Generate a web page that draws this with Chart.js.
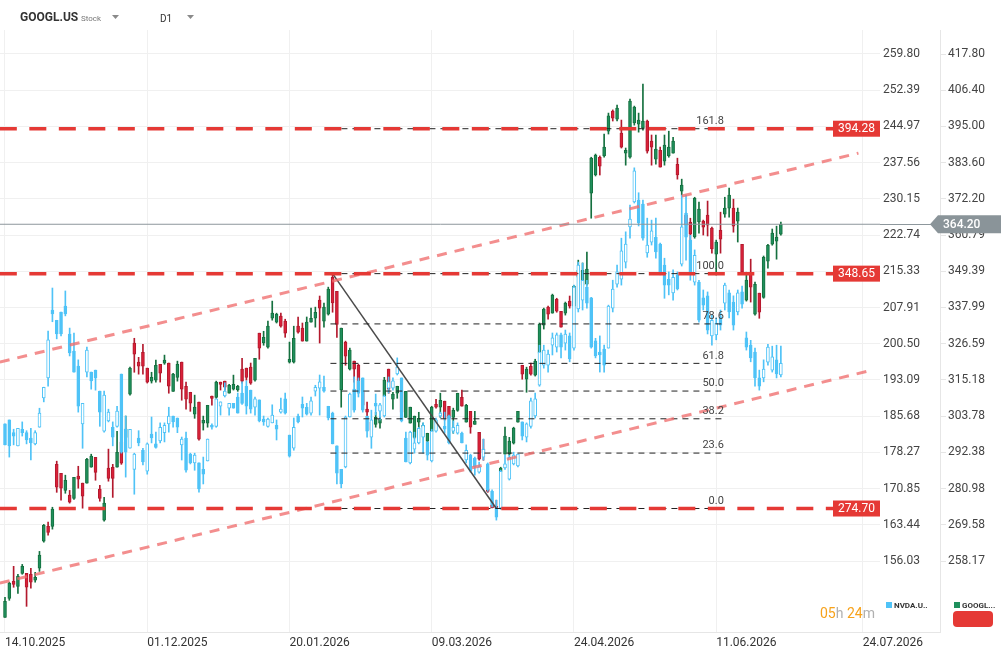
<!DOCTYPE html>
<html>
<head>
<meta charset="utf-8">
<script src="https://cdn.jsdelivr.net/npm/chart.js@4.4.1/dist/chart.umd.min.js"></script>
<style>
  html, body { margin: 0; padding: 0; background: #fff; }
  canvas { display: block; }
</style>
</head>
<body>
<canvas id="chart" width="1008" height="659"></canvas>
<script>
// --- x axis (bar index) labels ---
const dateLabels = ['14.10.2025', '01.12.2025', '20.01.2026', '09.03.2026', '24.04.2026', '11.06.2026', '24.07.2026'];
const dateTickIdx = [0, 33, 66, 99, 132, 165, 199];

// --- y tick labels ---
const nvdaTicks = [259.80, 252.39, 244.97, 237.56, 230.15, 222.74, 215.33, 207.91, 200.50, 193.09, 185.68, 178.27, 170.85, 163.44, 156.03];
const googlTicks = [417.80, 406.40, 395.00, 383.60, 372.20, 360.79, 349.39, 337.99, 326.59, 315.18, 303.78, 292.38, 280.98, 269.58, 258.17];

// --- GOOGL.US daily candles ---
const googlOpen = [
  240.4, 246.4, 251.8, 250.2, 254.3, 254.3, 254.0, 252.1, 255.9, 264.4,
  269.1, 269.1, 288.6, 285.8, 280.4, 278.9, 277.9, 284.9, 282.7, 282.7,
  287.7, 290.8, 280.8, 271.0, 287.4, 287.7, 287.7, 295.6, 297.1, 310.7,
  326.8, 320.8, 323.9, 318.9, 314.8, 315.1, 320.1, 320.5, 320.5, 311.6,
  316.0, 320.8, 313.2, 311.3, 304.4, 308.2, 301.6, 301.6, 310.1, 309.7,
  314.5, 314.8, 311.0, 312.3, 312.0, 318.6, 318.9, 319.2, 315.1, 329.9,
  326.8, 325.5, 334.6, 333.4, 335.3, 333.7, 320.8, 320.8, 332.1, 331.5,
  327.4, 333.4, 334.6, 340.3, 333.7, 335.9, 347.5, 343.1, 312.0, 327.1,
  318.6, 321.1, 319.8, 311.3, 306.0, 301.9, 301.2, 301.6, 310.1, 318.6,
  309.1, 311.0, 311.3, 303.4, 301.6, 297.1, 301.9, 300.3, 295.9, 299.0,
  307.5, 306.6, 308.5, 306.9, 303.4, 305.6, 309.7, 301.9, 305.3, 301.2,
  298.7, 293.4, 280.8, 275.7, 275.4, 286.4, 291.8, 291.8, 295.3, 301.9,
  319.8, 315.4, 319.5, 316.7, 323.6, 332.4, 338.1, 336.2, 340.6, 336.8,
  336.2, 340.0, 338.4, 347.5, 345.0, 345.3, 374.0, 379.7, 385.3, 385.7,
  393.5, 399.8, 397.3, 392.9, 386.6, 385.3, 396.1, 395.7, 394.5, 396.7,
  390.4, 384.7, 387.5, 384.1, 385.7, 386.6, 383.1, 374.6, 367.1, 364.9,
  360.2, 364.9, 365.2, 367.1, 363.0, 354.8, 362.3, 367.4, 369.3, 369.3,
  365.2, 357.9, 340.3, 348.8, 335.9, 342.5, 341.2, 352.6, 357.9, 358.9,
  361.1
];
const googlHigh = [
  246.7, 251.5, 256.5, 254.0, 257.1, 254.3, 255.9, 254.6, 261.2, 269.7,
  270.4, 275.1, 289.6, 285.8, 285.2, 280.4, 284.5, 288.0, 282.7, 290.5,
  291.8, 290.8, 282.0, 278.2, 293.4, 288.6, 299.0, 298.4, 303.8, 319.2,
  328.3, 322.3, 326.4, 318.9, 317.6, 321.4, 320.1, 323.0, 320.5, 317.3,
  321.1, 320.8, 314.5, 311.3, 310.4, 308.2, 303.8, 307.2, 310.1, 314.8,
  314.5, 314.8, 313.8, 316.7, 313.5, 322.0, 318.9, 320.5, 322.0, 329.9,
  330.5, 333.7, 340.0, 336.2, 336.2, 334.3, 327.1, 332.1, 335.0, 333.1,
  335.0, 337.8, 338.1, 341.6, 339.4, 344.4, 348.65, 343.1, 331.5, 327.4,
  325.2, 321.1, 320.1, 313.5, 308.2, 302.2, 305.0, 303.4, 316.0, 318.6,
  311.3, 313.2, 313.5, 311.6, 306.6, 303.8, 305.0, 301.6, 298.4, 306.9,
  309.1, 311.0, 308.5, 306.9, 306.3, 311.0, 312.0, 307.5, 305.3, 305.3,
  298.7, 296.5, 281.4, 275.7, 277.3, 287.7, 300.3, 297.1, 300.3, 305.3,
  319.8, 319.2, 320.5, 321.7, 333.1, 337.8, 338.4, 342.2, 340.9, 336.8,
  339.7, 341.6, 345.0, 352.9, 352.0, 355.4, 385.3, 386.3, 385.7, 392.6,
  399.2, 400.2, 401.7, 397.0, 388.2, 403.6, 401.4, 399.2, 408.3, 397.0,
  392.3, 392.3, 388.5, 392.3, 393.5, 391.6, 385.0, 378.4, 367.7, 366.1,
  372.7, 371.2, 365.5, 371.5, 363.3, 359.2, 368.0, 372.7, 375.6, 372.1,
  369.3, 357.9, 349.1, 353.2, 346.0, 342.5, 354.2, 357.9, 362.7, 363.6,
  364.9
];
const googlLow = [
  240.4, 245.8, 249.9, 248.0, 254.0, 243.9, 249.6, 251.5, 254.9, 264.1,
  266.3, 268.2, 279.8, 277.3, 279.5, 276.4, 277.6, 281.1, 274.8, 282.7,
  287.7, 283.6, 277.0, 270.7, 283.3, 278.2, 287.7, 288.6, 297.1, 310.4,
  317.6, 317.0, 317.0, 314.2, 314.2, 314.5, 314.5, 320.1, 311.0, 311.6,
  314.8, 308.8, 306.0, 305.3, 303.1, 296.2, 299.4, 300.3, 307.2, 309.4,
  312.0, 312.0, 311.0, 312.0, 311.6, 314.2, 315.1, 313.8, 314.8, 321.7,
  326.1, 325.2, 334.0, 333.1, 331.8, 328.6, 320.5, 320.5, 329.9, 327.4,
  327.4, 333.4, 331.8, 326.8, 331.8, 335.6, 336.5, 328.6, 306.6, 319.8,
  318.3, 314.5, 311.0, 306.3, 303.4, 297.8, 300.3, 300.0, 309.7, 311.0,
  306.0, 309.4, 304.1, 303.4, 301.6, 296.8, 297.8, 299.4, 293.1, 298.7,
  306.3, 303.4, 302.5, 302.8, 298.4, 305.3, 306.9, 301.9, 298.4, 301.2,
  289.9, 289.9, 279.8, 274.9, 274.7, 286.1, 291.8, 291.5, 295.0, 301.9,
  315.4, 311.3, 316.7, 316.4, 323.6, 331.2, 334.3, 336.2, 336.5, 331.8,
  335.6, 337.8, 337.5, 347.2, 345.0, 345.0, 366.1, 379.4, 379.7, 385.3,
  392.6, 396.7, 396.7, 388.2, 382.8, 385.0, 395.4, 393.2, 393.8, 386.6,
  382.8, 383.1, 382.2, 382.8, 385.3, 386.6, 378.4, 373.4, 360.8, 357.0,
  359.8, 361.4, 360.8, 360.5, 355.1, 348.2, 355.1, 366.4, 366.4, 361.7,
  358.6, 348.8, 340.0, 339.7, 335.6, 334.6, 340.9, 350.4, 357.6, 353.2,
  360.8
];
const googlClose = [
  245.5, 251.2, 250.8, 253.4, 256.5, 249.9, 251.5, 253.0, 260.0, 269.4,
  267.2, 274.5, 281.4, 281.1, 283.6, 276.7, 284.5, 283.9, 278.6, 290.2,
  291.2, 286.1, 277.9, 276.4, 284.2, 284.2, 292.4, 289.0, 299.7, 318.9,
  323.3, 319.5, 319.5, 314.5, 316.0, 319.8, 317.3, 321.4, 313.2, 317.0,
  320.1, 312.3, 309.1, 307.9, 306.6, 296.5, 302.5, 307.2, 309.4, 314.5,
  313.8, 312.9, 313.5, 313.8, 313.2, 314.8, 316.0, 314.2, 322.0, 325.2,
  328.6, 332.1, 336.2, 335.9, 332.1, 329.9, 321.7, 328.3, 330.2, 327.4,
  333.4, 334.6, 336.5, 337.8, 338.1, 343.8, 339.4, 332.7, 331.5, 322.7,
  324.6, 318.6, 311.6, 307.2, 305.0, 299.4, 303.4, 302.8, 315.1, 312.3,
  310.7, 313.2, 305.0, 311.6, 306.6, 303.8, 303.1, 300.9, 298.4, 306.6,
  306.6, 308.8, 303.1, 303.1, 305.6, 311.0, 306.9, 307.2, 300.3, 302.2,
  290.2, 292.4, 280.1, 275.0, 275.0, 287.4, 297.5, 295.9, 300.0, 305.3,
  317.0, 318.6, 317.0, 321.1, 332.7, 337.5, 335.9, 341.9, 336.8, 331.8,
  339.4, 338.4, 344.7, 349.7, 349.7, 350.1, 385.0, 386.0, 382.5, 388.5,
  398.3, 397.6, 400.8, 388.5, 387.5, 403.0, 401.1, 397.0, 396.7, 387.2,
  388.5, 387.9, 382.2, 389.1, 388.5, 390.4, 379.7, 376.5, 363.9, 361.1,
  372.4, 369.0, 363.3, 363.9, 356.4, 358.6, 359.5, 369.3, 373.4, 363.6,
  368.0, 349.1, 346.6, 344.4, 345.3, 336.5, 353.8, 357.6, 361.4, 360.2,
  364.2
];

// --- NVDA.US daily candles (comparison overlay, inner axis) ---
const nvdaOpen = [
  184.1, 184.9, 182.3, 179.6, 183.0, 182.3, 181.2, 180.0, 183.4, 189.4,
  193.5, 207.4, 205.3, 207.0, 208.2, 202.5, 199.0, 195.9, 184.1, 194.7,
  194.7, 195.1, 190.8, 182.6, 184.7, 183.4, 183.6, 194.3, 183.0, 179.1,
  174.8, 181.2, 178.7, 174.4, 182.0, 180.0, 180.6, 182.3, 184.1, 185.7,
  185.3, 179.8, 181.2, 177.9, 176.1, 176.1, 174.8, 176.5, 183.8, 183.6,
  187.7, 189.8, 187.3, 188.3, 189.6, 190.4, 191.8, 191.0, 187.5, 189.0,
  185.1, 183.6, 184.3, 183.8, 186.5, 189.2, 181.8, 179.1, 185.7, 188.1,
  187.5, 186.3, 190.8, 191.4, 191.6, 187.7, 186.3, 179.6, 174.8, 175.3,
  185.5, 191.2, 192.9, 193.5, 185.7, 181.4, 188.3, 186.7, 185.7, 191.4,
  191.4, 194.3, 193.5, 181.2, 176.1, 178.9, 180.2, 181.4, 180.4, 176.5,
  182.6, 185.7, 183.6, 185.7, 182.6, 182.2, 182.2, 176.7, 177.7, 177.1,
  174.2, 177.3, 175.9, 170.3, 166.9, 166.9, 175.1, 172.8, 175.9, 175.5,
  184.5, 181.4, 183.6, 185.7, 192.0, 196.1, 196.1, 200.2, 199.8, 202.3,
  200.6, 202.1, 199.6, 207.6, 209.4, 212.1, 209.9, 201.1, 198.8, 199.4,
  199.6, 207.8, 212.7, 213.7, 217.2, 224.4, 229.5, 229.9, 229.1, 219.1,
  221.3, 222.3, 220.9, 216.6, 213.7, 210.9, 214.6, 216.8, 227.2, 221.7,
  213.1, 213.1, 209.9, 210.3, 202.1, 202.3, 206.0, 208.8, 210.9, 209.0,
  207.0, 211.1, 201.7, 200.2, 198.8, 193.5, 193.5, 196.7, 195.1, 197.2,
  194.1
];
const nvdaHigh = [
  184.1, 184.9, 183.0, 183.2, 184.5, 182.7, 183.2, 182.7, 187.3, 191.6,
  203.1, 211.9, 205.3, 207.0, 211.3, 203.7, 202.7, 197.2, 188.3, 199.8,
  194.7, 195.1, 190.8, 190.8, 187.1, 184.5, 187.7, 194.3, 185.7, 183.0,
  178.1, 182.7, 179.1, 180.2, 185.5, 182.4, 184.3, 184.3, 187.5, 185.7,
  185.3, 181.4, 182.4, 178.1, 178.1, 176.1, 177.3, 181.0, 184.1, 189.2,
  188.6, 192.5, 188.3, 188.3, 190.4, 192.7, 192.9, 191.0, 189.6, 189.0,
  185.7, 185.3, 188.0, 184.9, 189.4, 190.4, 181.8, 185.3, 186.1, 189.6,
  188.3, 189.6, 192.0, 194.1, 193.9, 187.7, 186.5, 179.6, 174.8, 185.7,
  190.4, 193.7, 193.5, 193.5, 185.7, 186.9, 190.2, 188.3, 190.0, 193.7,
  193.5, 197.6, 193.5, 182.4, 182.6, 182.4, 183.4, 184.3, 180.4, 183.0,
  185.3, 186.5, 186.5, 185.9, 184.7, 184.3, 182.4, 179.8, 177.9, 177.3,
  176.3, 181.0, 176.1, 170.6, 168.5, 174.6, 177.7, 177.7, 178.3, 177.9,
  184.5, 184.3, 189.4, 190.4, 200.2, 200.2, 199.2, 202.7, 202.7, 202.7,
  203.3, 202.7, 212.5, 217.2, 217.0, 213.5, 210.0, 201.6, 202.1, 200.2,
  208.4, 213.5, 216.6, 222.1, 223.4, 228.9, 236.5, 231.4, 229.9, 226.2,
  225.8, 226.2, 221.1, 218.0, 215.2, 215.6, 215.2, 230.9, 230.9, 222.7,
  219.7, 213.5, 211.5, 211.1, 206.4, 205.8, 207.4, 212.9, 211.5, 210.3,
  211.5, 212.3, 202.9, 201.2, 199.6, 195.1, 197.2, 200.4, 200.0, 200.2,
  200.0
];
const nvdaLow = [
  179.8, 177.3, 179.8, 179.6, 181.6, 180.0, 176.7, 179.8, 183.4, 188.6,
  191.8, 205.0, 201.5, 202.1, 206.2, 198.0, 194.7, 186.5, 179.1, 193.7,
  191.2, 191.0, 183.6, 182.4, 184.5, 179.6, 183.4, 178.1, 173.2, 179.1,
  169.7, 179.6, 175.7, 173.8, 180.2, 179.1, 180.2, 180.4, 182.4, 183.4,
  182.3, 176.7, 174.2, 175.9, 174.6, 170.1, 171.8, 176.5, 183.0, 183.4,
  185.9, 189.6, 185.9, 187.3, 186.3, 188.1, 186.1, 186.3, 185.9, 184.5,
  183.8, 183.4, 184.3, 180.8, 186.3, 186.1, 177.3, 178.7, 184.3, 185.5,
  185.9, 185.9, 189.8, 185.9, 190.6, 184.9, 180.0, 171.8, 171.0, 175.1,
  185.5, 186.5, 189.6, 186.5, 181.4, 179.1, 185.9, 184.9, 185.5, 190.4,
  191.0, 194.1, 184.5, 176.3, 175.9, 178.1, 180.0, 178.1, 176.7, 176.3,
  182.4, 185.5, 182.2, 180.0, 182.2, 182.0, 180.2, 176.1, 174.2, 173.6,
  174.0, 176.7, 170.3, 167.1, 164.4, 166.6, 174.8, 172.6, 175.7, 175.3,
  180.8, 180.4, 183.2, 185.3, 191.8, 195.5, 194.7, 198.2, 198.8, 197.6,
  199.2, 196.8, 199.2, 207.0, 207.4, 207.8, 199.6, 197.6, 194.7, 194.7,
  199.6, 207.0, 212.1, 212.5, 216.0, 222.1, 229.3, 224.6, 221.7, 218.2,
  220.7, 218.0, 214.6, 209.8, 210.5, 209.4, 211.5, 216.4, 217.6, 213.5,
  212.5, 204.9, 207.4, 202.5, 200.2, 201.3, 203.3, 207.4, 205.8, 203.3,
  206.4, 207.8, 199.2, 196.8, 191.8, 191.0, 192.7, 196.1, 194.7, 193.5,
  193.7
];
const nvdaClose = [
  179.8, 179.6, 181.6, 183.2, 182.3, 180.8, 180.2, 182.3, 186.3, 191.6,
  201.3, 206.6, 202.5, 202.5, 206.6, 198.6, 194.7, 187.7, 188.3, 199.2,
  192.9, 193.5, 186.5, 190.0, 186.5, 181.4, 186.7, 178.3, 178.3, 183.0,
  177.9, 180.2, 176.3, 180.0, 181.2, 179.3, 183.4, 183.8, 185.7, 184.5,
  183.4, 181.0, 174.6, 176.1, 177.7, 170.8, 173.8, 181.0, 183.4, 189.2,
  188.6, 190.8, 188.3, 187.3, 186.3, 188.3, 187.7, 187.1, 189.2, 184.7,
  184.5, 185.1, 185.9, 183.0, 187.1, 186.3, 177.5, 183.4, 184.5, 187.3,
  186.1, 188.8, 191.6, 192.7, 190.8, 185.3, 180.0, 174.0, 171.8, 185.5,
  190.2, 186.9, 190.4, 186.9, 182.6, 184.9, 187.7, 188.0, 189.8, 192.7,
  192.9, 195.7, 184.7, 176.3, 182.4, 180.2, 183.2, 183.8, 177.7, 182.6,
  184.9, 186.3, 183.0, 180.2, 183.4, 183.8, 180.2, 178.7, 174.4, 175.3,
  175.3, 178.9, 170.6, 167.5, 165.0, 174.4, 175.9, 177.3, 177.7, 177.9,
  181.6, 184.1, 188.8, 189.2, 198.8, 199.2, 198.4, 201.7, 202.3, 199.8,
  202.5, 197.4, 212.1, 216.6, 213.5, 208.8, 199.8, 198.0, 198.2, 196.1,
  208.2, 211.7, 215.2, 219.5, 220.9, 226.0, 235.9, 225.2, 222.1, 220.7,
  223.6, 219.3, 215.0, 212.5, 212.5, 214.1, 211.7, 224.4, 222.3, 214.8,
  218.6, 205.3, 208.4, 203.3, 205.3, 204.7, 204.3, 212.5, 207.0, 204.3,
  210.9, 208.6, 199.8, 197.6, 193.5, 191.8, 195.3, 199.8, 197.8, 194.3,
  196.5
];

// --- drawings on the GOOGL axis ---
const levelPrices = [394.28, 348.65, 274.70];
const fibNames = ['161.8', '100.0', '78.6', '61.8', '50.0', '38.2', '23.6', '0.0'];
const fibPrices = [394.28, 348.65, 332.82, 320.40, 311.68, 302.95, 292.15, 274.70];
const fibSpan = [75.5, 167];
const trendFrom = [76, 348.65];
const trendTo = [114, 274.70];
const upperChannelX = [-1.2, 198];
const upperChannel = [320.8, 386.6];
const lowerChannelX = [-1.2, 201.2];
const lowerChannel = [251.2, 318.3];
const lastPrice = 364.20;

const FONT = 'Roboto, "Noto Sans", sans-serif';

function candleSets(open, high, low, close, axis, upFill, downFill, upLine, downLine, order) {
  const up = close.map((c, i) => c >= open[i]);
  return [
    {
      type: 'bar', yAxisID: axis, order: order,
      data: open.map((o, i) => ({ x: i, y: [o, close[i]] })),
      backgroundColor: up.map(u => u ? upFill : downFill),
      borderColor: up.map(u => u ? upLine : downLine),
      borderWidth: 1, borderSkipped: false, barThickness: 3, minBarLength: 1, grouped: false
    },
    {
      type: 'bar', yAxisID: axis, order: order + 1,
      data: low.map((l, i) => ({ x: i, y: [l, high[i]] })),
      backgroundColor: up.map(u => u ? upLine : downLine),
      borderWidth: 0, barThickness: 1, grouped: false
    }
  ];
}

function seg(xs, ys, color, width, dash) {
  return {
    type: 'line', yAxisID: 'y2', order: 0,
    data: [{ x: xs[0], y: ys[0] }, { x: xs[1], y: ys[1] }],
    borderColor: color, borderWidth: width, borderDash: dash || [],
    pointRadius: 0, fill: false, tension: 0
  };
}

const datasets = [];
levelPrices.forEach(p => datasets.push(seg([-1.2, 204], [p, p], '#e53935', 3.5, [17, 12.5])));
datasets.push(seg([-1.2, 204], [lastPrice, lastPrice], '#8d979c', 1));
datasets.push(seg(upperChannelX, upperChannel, 'rgba(240,110,110,0.78)', 3, [10, 8]));
datasets.push(seg(lowerChannelX, lowerChannel, 'rgba(240,110,110,0.78)', 3, [10, 8]));
fibPrices.forEach(p => datasets.push(seg(fibSpan, [p, p], '#222', 1, [6, 5])));
datasets.push(seg([trendFrom[0], trendTo[0]], [trendFrom[1], trendTo[1]], '#4a4a4a', 1.5));
datasets.push(...candleSets(nvdaOpen, nvdaHigh, nvdaLow, nvdaClose, 'y', '#ffffff', '#4fc3f7', '#4fc3f7', '#4fc3f7', 1));
datasets.push(...candleSets(googlOpen, googlHigh, googlLow, googlClose, 'y2', '#1f8f5c', '#d92139', '#15703f', '#b3192d', 3));

function drawTri(ctx, x, y) {
  ctx.fillStyle = '#8a8a8a';
  ctx.beginPath();
  ctx.moveTo(x, y); ctx.lineTo(x + 7, y); ctx.lineTo(x + 3.5, y + 4);
  ctx.closePath(); ctx.fill();
}

const overlay = {
  id: 'overlay',
  beforeDraw(chart) {
    const ctx = chart.ctx;
    ctx.save();
    ctx.fillStyle = '#fff';
    ctx.fillRect(0, 0, chart.width, chart.height);
    ctx.restore();
  },
  afterDraw(chart) {
    const { ctx, chartArea: a, scales } = chart;
    const x = scales.x, y2 = scales.y2;
    ctx.save();

    // x axis line continues under the inner axis
    ctx.strokeStyle = '#e6e6e6'; ctx.lineWidth = 1;
    ctx.beginPath(); ctx.moveTo(a.right, a.bottom + 0.5); ctx.lineTo(940, a.bottom + 0.5); ctx.stroke();

    // current price line extension + label
    const yp = y2.getPixelForValue(lastPrice);
    ctx.strokeStyle = '#8d979c';
    ctx.beginPath(); ctx.moveTo(a.right, Math.round(yp) + 0.5); ctx.lineTo(932, Math.round(yp) + 0.5); ctx.stroke();
    ctx.fillStyle = '#8a9499';
    ctx.beginPath();
    ctx.moveTo(930, yp); ctx.lineTo(938, yp - 9); ctx.lineTo(1001, yp - 9);
    ctx.lineTo(1001, yp + 9); ctx.lineTo(938, yp + 9); ctx.closePath(); ctx.fill();
    ctx.fillStyle = '#fff';
    ctx.font = '500 12px ' + FONT;
    ctx.textAlign = 'left'; ctx.textBaseline = 'middle';
    ctx.fillText(lastPrice.toFixed(2), 943, yp + 0.5);

    // level price tags
    levelPrices.forEach(p => {
      const yy = y2.getPixelForValue(p);
      ctx.fillStyle = '#e53935';
      ctx.fillRect(a.right - 47, yy - 8, 47, 16);
      ctx.fillStyle = '#fff';
      ctx.font = '12px ' + FONT;
      ctx.textAlign = 'center';
      ctx.fillText(p.toFixed(2), a.right - 23.5, yy + 0.5);
    });

    // fibonacci labels
    ctx.fillStyle = '#444';
    ctx.font = '11px ' + FONT;
    ctx.textAlign = 'right';
    const fx = x.getPixelForValue(fibSpan[1]) - 1;
    fibNames.forEach((n, k) => {
      ctx.fillText(n, fx, y2.getPixelForValue(fibPrices[k]) - 7.5);
    });

    // header
    ctx.textAlign = 'left';
    ctx.fillStyle = '#333';
    ctx.font = 'bold 12px ' + FONT;
    ctx.fillText('GOOGL.US', 20, 18);
    ctx.fillStyle = '#777';
    ctx.font = '8px ' + FONT;
    ctx.fillText('Stock', 81, 19);
    drawTri(ctx, 112, 15);
    ctx.fillStyle = '#333';
    ctx.font = '10px ' + FONT;
    ctx.fillText('D1', 160, 19);
    drawTri(ctx, 187, 15);

    // candle timer
    ctx.font = '14px ' + FONT;
    let tx = 820;
    [['05', '#f7a21b'], ['h ', '#b0b0b0'], ['24', '#f7a21b'], ['m', '#b0b0b0']].forEach(([t, c]) => {
      ctx.fillStyle = c; ctx.fillText(t, tx, 614); tx += ctx.measureText(t).width;
    });

    // series legend
    ctx.font = 'bold 8px ' + FONT;
    ctx.fillStyle = '#4fc3f7'; ctx.fillRect(886, 602, 6, 6);
    ctx.fillStyle = '#333'; ctx.fillText('NVDA.U..', 894, 605.5);
    ctx.fillStyle = '#1f8f5c'; ctx.fillRect(954, 602, 6, 6);
    ctx.fillStyle = '#333'; ctx.fillText('GOOGL...', 962, 605.5);
    ctx.fillStyle = '#e53935';
    ctx.beginPath();
    ctx.roundRect(953, 611, 40, 16, 4);
    ctx.fill();

    ctx.restore();
  }
};

new Chart(document.getElementById('chart'), {
  type: 'bar',
  data: { datasets },
  options: {
    responsive: false,
    animation: false,
    layout: { padding: { top: 30, left: 0, right: 0, bottom: 0 } },
    plugins: { legend: { display: false }, tooltip: { enabled: false } },
    scales: {
      x: {
        type: 'linear', min: -1.16, max: 203.0, offset: false,
        afterBuildTicks: s => { s.ticks = dateTickIdx.map(v => ({ value: v })); },
        afterFit: s => { s.height = 27; },
        grid: { color: '#f0f0f0', drawTicks: false, offset: false },
        border: { display: true, color: '#e6e6e6' },
        ticks: {
          align: 'start', maxRotation: 0, autoSkip: false, padding: 4,
          color: '#333', font: { family: FONT, size: 12 },
          callback: (v, i) => dateLabels[i]
        }
      },
      y: {
        type: 'linear', position: 'right', weight: 0,
        min: 141.50, max: 264.71, beginAtZero: false,
        afterBuildTicks: s => { s.ticks = nvdaTicks.map(v => ({ value: v })); },
        afterFit: s => { s.width = 60; },
        grid: { color: '#f0f0f0', drawTicks: false },
        border: { display: false },
        ticks: { padding: 3, color: '#444', autoSkip: false, font: { family: FONT, size: 12 }, callback: v => v.toFixed(2) }
      },
      y2: {
        type: 'linear', position: 'right', weight: 1,
        min: 235.82, max: 425.36, beginAtZero: false,
        afterBuildTicks: s => { s.ticks = googlTicks.map(v => ({ value: v })); },
        afterFit: s => { s.width = 68; },
        grid: { drawOnChartArea: false, color: '#e6e6e6', tickLength: 6 },
        border: { display: true, color: '#e6e6e6' },
        ticks: { padding: 2, color: '#444', autoSkip: false, font: { family: FONT, size: 12 }, callback: v => v.toFixed(2) }
      }
    }
  },
  plugins: [overlay]
});
</script>
</body>
</html>
